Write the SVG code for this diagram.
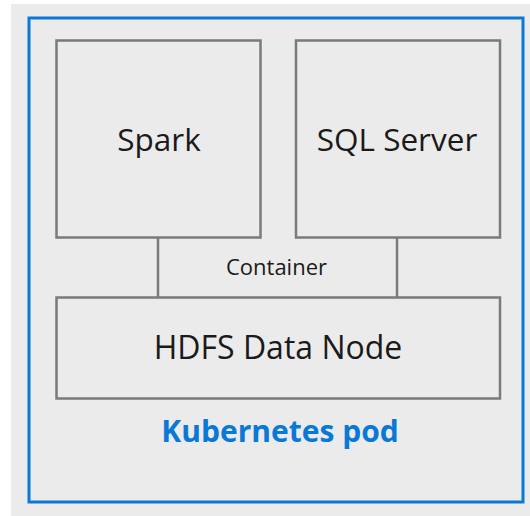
<svg xmlns="http://www.w3.org/2000/svg" width="530" height="516" viewBox="0 0 530 516">
<style>
.box{fill:none;stroke:#7a7a7a;stroke-width:2.5}
.lbl{font-family:"Open Sans","Noto Sans",sans-serif;fill:#1a1a1a;text-anchor:middle}
.conn{stroke:#7a7a7a;stroke-width:2.5;fill:none}
</style>
<rect x="0" y="0" width="530" height="516" fill="#ffffff"/>
<rect x="11" y="4" width="519" height="512" fill="#ebebeb"/>
<g id="pod">
<rect x="29" y="18" width="494" height="484" fill="none" stroke="#0a78d6" stroke-width="3"/>
<text x="280" y="442" class="lbl" style="fill:#0a78d6;font-weight:bold;font-size:30px">Kubernetes pod</text>
</g>
<g id="spark">
<rect x="56.5" y="40.5" width="204" height="197" class="box"/>
<text x="159" y="151" class="lbl" font-size="31.5">Spark</text>
</g>
<g id="sqlserver">
<rect x="296" y="40.5" width="204" height="197" class="box"/>
<text x="397" y="151" class="lbl" font-size="31.5">SQL Server</text>
</g>
<g id="hdfs">
<rect x="56.5" y="297.5" width="443.5" height="101" class="box"/>
<text x="278" y="359" class="lbl" font-size="32">HDFS Data Node</text>
</g>
<g id="connectors">
<line x1="158" y1="237.5" x2="158" y2="297.5" class="conn"/>
<line x1="397" y1="237.5" x2="397" y2="297.5" class="conn"/>
<text x="276.5" y="275" class="lbl" font-size="22">Container</text>
</g>
</svg>
